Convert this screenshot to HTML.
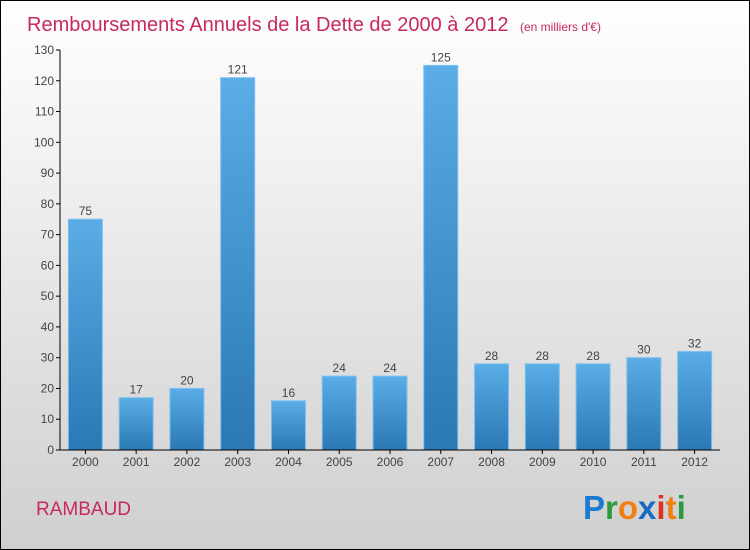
<!DOCTYPE html>
<html><head><meta charset="utf-8"><style>
body{margin:0}
#c{position:relative;width:748px;height:548px;border:1px solid #000;background:linear-gradient(#ffffff,#cfcfcf);font-family:"Liberation Sans",sans-serif;overflow:hidden}
</style></head><body>
<div id="c">
<svg id="s" width="748" height="548" xmlns="http://www.w3.org/2000/svg">
<defs><linearGradient id="g" x1="0" y1="0" x2="0" y2="1"><stop offset="0" stop-color="#5aade6"/><stop offset="1" stop-color="#2a78b4"/></linearGradient></defs>
<text x="26" y="30" font-size="20" fill="#c8285f">Remboursements Annuels de la Dette de 2000 à 2012 <tspan font-size="12" dx="6">(en milliers d'€)</tspan></text>
<text x="35" y="514" font-size="19" fill="#c8285f">RAMBAUD</text>
<g font-size="33" font-weight="bold">
<text x="582" y="518"><tspan fill="#1a7ad0">P</tspan><tspan fill="#2a9a3a">r</tspan><tspan fill="#f08010">o</tspan><tspan fill="#1a6ac0">x</tspan><tspan fill="#e03020">i</tspan><tspan fill="#f08010">t</tspan><tspan fill="#2a9a3a">i</tspan></text>
</g>
<g id="plot"></g>
</svg></div>
<script>
const categories=["2000","2001","2002","2003","2004","2005","2006","2007","2008","2009","2010","2011","2012"];
const values=[75,17,20,121,16,24,24,125,28,28,28,30,32];
const ticks=[0,10,20,30,40,50,60,70,80,90,100,110,120,130];
const NS="http://www.w3.org/2000/svg";
const g=document.getElementById('plot');
const x0=59,x1=719,y0=449,y1=49,ymax=130;
const yS=v=>y0-(y0-y1)*v/ymax;
const step=(x1-x0)/categories.length;
const xC=i=>x0+step*(i+0.5);
function el(t,a,p){const e=document.createElementNS(NS,t);for(const k in a)e.setAttribute(k,a[k]);(p||g).appendChild(e);return e;}
ticks.forEach(t=>{
 const l=el('line',{x1:x0-4,x2:x0,y1:yS(t),y2:yS(t),stroke:'#000'});
 
 
 const tx=el('text',{x:x0-6,y:yS(t)+4,'font-size':12,fill:'#444','text-anchor':'end'});tx.textContent=t;
 
 
});
categories.forEach((c,i)=>{
 const v=values[i];
 const r=el('rect',{x:xC(i)-17,y:yS(v),width:34,height:y0-yS(v),fill:'url(#g)',stroke:'#7cc0ee','stroke-width':1});
 
 
 const vl=el('text',{x:xC(i),y:yS(v)-4,'font-size':12,fill:'#444','text-anchor':'middle'});vl.textContent=v;
 
 
 const tk=el('line',{x1:xC(i),x2:xC(i),y1:y0,y2:y0+4,stroke:'#000'});
 
 
 const xl=el('text',{x:xC(i),y:y0+16,'font-size':12,fill:'#444','text-anchor':'middle'});xl.textContent=c;
 
 
});
const ya=el('line',{x1:x0,x2:x0,y1:y1,y2:y0,stroke:'#000'});


const xa=el('line',{x1:x0,x2:x1,y1:y0,y2:y0,stroke:'#000'});


</script>
</body></html>
